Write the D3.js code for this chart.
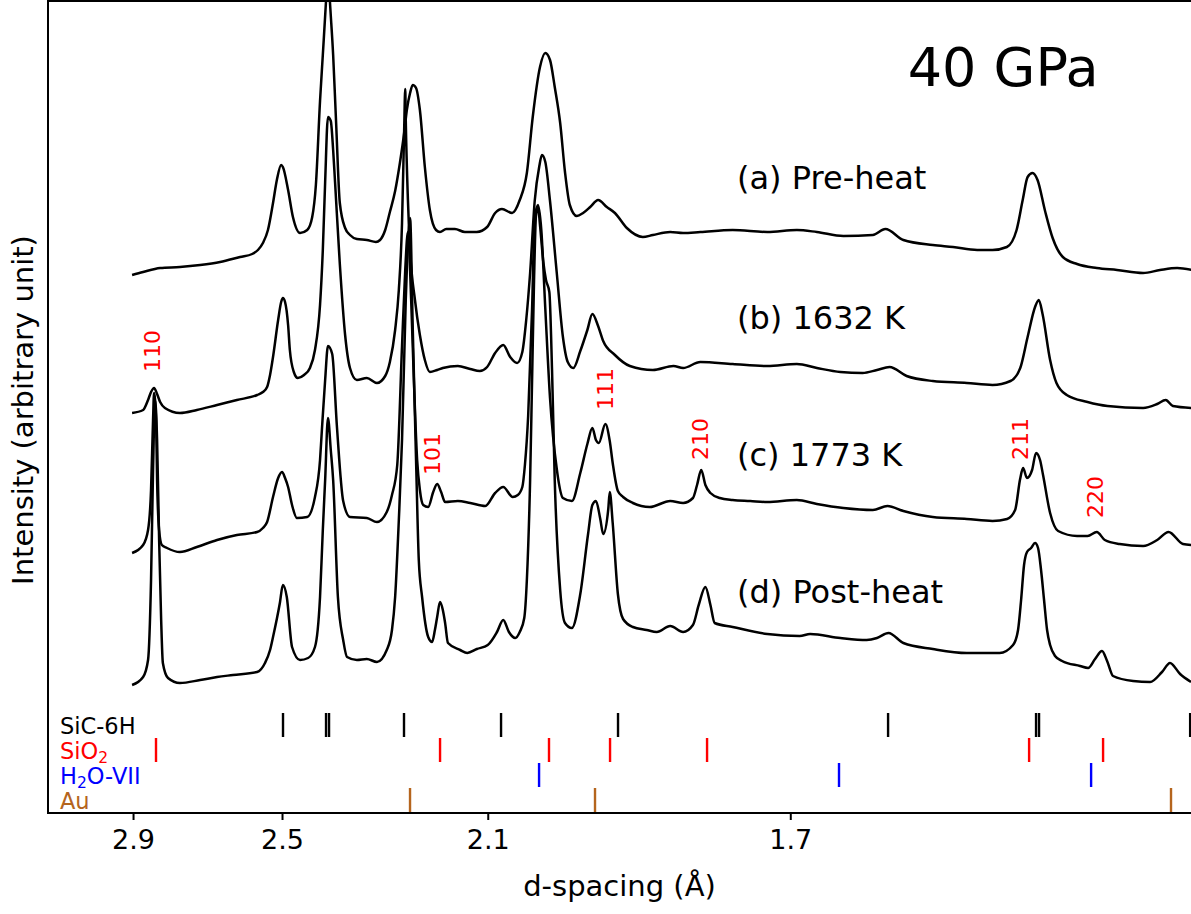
<!DOCTYPE html>
<html>
<head>
<meta charset="utf-8">
<script src="https://cdn.jsdelivr.net/npm/d3@7"></script>
<style>
  body { margin: 0; background: #fff; }
  svg { display: block; font-family: "DejaVu Sans", sans-serif; }
</style>
</head>
<body>
<div id="chart"></div>
<script>
// XRD patterns at 40 GPa: [d-spacing (Å), stacked intensity (arbitrary unit)]
const preHeat = [
  [2.903,538],[2.869,541],[2.818,545],[2.761,546],[2.705,548],[2.652,551],[2.601,556],[2.571,559],
  [2.557,563],[2.545,570],[2.533,583],[2.521,610],[2.512,633],[2.502,648],[2.498,646],[2.486,623],
  [2.475,596],[2.459,580],[2.443,583],[2.432,596],[2.424,628],[2.415,712],[2.409,758],[2.402,813],
  [2.398,848],[2.394,813],[2.387,758],[2.381,693],[2.373,610],[2.362,585],[2.352,578],[2.338,574],
  [2.318,573],[2.300,571],[2.292,573],[2.282,583],[2.273,601],[2.263,622],[2.254,650],[2.246,680],
  [2.241,703],[2.235,720],[2.230,728],[2.224,725],[2.217,703],[2.208,646],[2.199,603],[2.188,583],
  [2.181,581],[2.170,584],[2.155,584],[2.138,581],[2.118,581],[2.101,586],[2.088,600],[2.077,604],
  [2.061,600],[2.049,613],[2.038,640],[2.029,696],[2.018,746],[2.010,760],[2.003,753],[1.996,726],
  [1.988,690],[1.981,641],[1.974,608],[1.964,597],[1.955,600],[1.945,606],[1.934,613],[1.922,606],
  [1.911,600],[1.895,585],[1.874,576],[1.861,578],[1.839,581],[1.823,580],[1.802,581],[1.764,583],
  [1.725,581],[1.693,583],[1.672,581],[1.645,577],[1.616,578],[1.604,584],[1.587,573],[1.560,568],
  [1.542,566],[1.521,563],[1.508,563],[1.496,566],[1.488,583],[1.483,613],[1.479,636],[1.475,640],
  [1.471,633],[1.465,602],[1.459,575],[1.451,556],[1.440,549],[1.425,545],[1.410,543],[1.391,540],
  [1.379,543],[1.367,545],[1.357,543]
];
const heat1632 = [
  [2.903,400],[2.869,403],[2.854,413],[2.845,421],[2.836,425],[2.827,419],[2.818,411],[2.804,405],
  [2.761,400],[2.714,403],[2.660,408],[2.609,413],[2.559,418],[2.545,421],[2.535,426],[2.528,438],
  [2.521,456],[2.509,493],[2.502,511],[2.498,515],[2.493,511],[2.486,488],[2.482,463],[2.473,441],
  [2.464,435],[2.450,438],[2.437,445],[2.426,463],[2.415,508],[2.409,563],[2.404,631],[2.398,696],
  [2.392,692],[2.387,663],[2.383,631],[2.373,549],[2.362,478],[2.352,445],[2.338,433],[2.318,435],
  [2.298,430],[2.282,437],[2.273,451],[2.263,483],[2.256,523],[2.250,590],[2.246,683],[2.244,724],
  [2.243,693],[2.239,613],[2.235,563],[2.226,513],[2.217,478],[2.208,453],[2.199,441],[2.186,443],
  [2.176,445],[2.150,447],[2.129,444],[2.113,442],[2.101,446],[2.088,460],[2.075,468],[2.064,456],
  [2.053,450],[2.045,461],[2.039,493],[2.033,540],[2.026,612],[2.019,647],[2.015,658],[2.010,651],
  [2.003,612],[1.993,540],[1.984,476],[1.977,451],[1.969,445],[1.959,462],[1.949,483],[1.942,499],
  [1.934,487],[1.927,472],[1.911,458],[1.891,447],[1.861,443],[1.835,447],[1.823,445],[1.802,451],
  [1.764,449],[1.725,447],[1.693,449],[1.672,445],[1.648,441],[1.626,440],[1.612,443],[1.600,446],
  [1.584,437],[1.560,432],[1.530,430],[1.508,428],[1.493,432],[1.485,445],[1.479,476],[1.473,506],
  [1.470,513],[1.467,499],[1.461,453],[1.456,430],[1.448,418],[1.432,411],[1.417,407],[1.391,405],
  [1.381,409],[1.375,413],[1.370,407],[1.357,405]
];
const heat1773 = [
  [2.903,260],[2.869,268],[2.854,283],[2.845,323],[2.839,393],[2.836,420],[2.830,393],[2.827,333],
  [2.821,283],[2.813,268],[2.798,265],[2.761,261],[2.714,266],[2.660,273],[2.609,278],[2.559,281],
  [2.545,285],[2.535,291],[2.521,316],[2.509,335],[2.500,341],[2.493,335],[2.486,326],[2.477,308],
  [2.466,295],[2.443,296],[2.426,316],[2.415,353],[2.411,383],[2.404,433],[2.398,467],[2.389,459],
  [2.379,386],[2.366,312],[2.352,296],[2.318,295],[2.298,291],[2.279,301],[2.269,318],[2.259,348],
  [2.250,467],[2.244,543],[2.239,581],[2.233,513],[2.228,433],[2.222,353],[2.217,323],[2.211,308],
  [2.202,306],[2.193,321],[2.186,329],[2.179,321],[2.172,311],[2.150,312],[2.129,310],[2.104,307],
  [2.088,320],[2.075,326],[2.060,316],[2.052,318],[2.045,326],[2.041,348],[2.036,397],[2.030,504],
  [2.026,594],[2.021,608],[2.016,583],[2.010,504],[2.003,415],[1.993,344],[1.984,315],[1.971,312],
  [1.959,340],[1.949,369],[1.942,385],[1.937,373],[1.933,370],[1.924,389],[1.918,372],[1.914,350],
  [1.907,322],[1.900,316],[1.887,310],[1.865,306],[1.839,312],[1.823,310],[1.811,315],[1.806,328],
  [1.801,343],[1.796,328],[1.790,320],[1.779,315],[1.764,313],[1.744,312],[1.725,311],[1.693,313],
  [1.672,309],[1.645,305],[1.616,303],[1.602,307],[1.587,302],[1.560,296],[1.530,294],[1.508,292],
  [1.4958,294],[1.4892,303],[1.4851,334],[1.4827,345],[1.4795,335],[1.4754,343],[1.4722,360],[1.4690,353],
  [1.4666,338],[1.4610,300],[1.4547,282],[1.440,277],[1.432,277],[1.425,281],[1.419,273],[1.408,269],
  [1.391,267],[1.381,273],[1.373,281],[1.363,269],[1.357,268]
];
const postHeat = [
  [2.903,128],[2.869,136],[2.854,153],[2.845,233],[2.839,343],[2.833,413],[2.827,373],[2.821,273],
  [2.815,193],[2.810,150],[2.795,135],[2.761,130],[2.705,133],[2.660,136],[2.619,138],[2.559,141],
  [2.540,150],[2.528,163],[2.521,176],[2.505,210],[2.498,228],[2.489,216],[2.477,166],[2.459,153],
  [2.441,155],[2.426,166],[2.415,216],[2.409,283],[2.404,333],[2.398,395],[2.392,363],[2.387,333],
  [2.377,216],[2.366,173],[2.358,156],[2.338,153],[2.318,154],[2.298,151],[2.279,163],[2.269,183],
  [2.263,216],[2.256,293],[2.250,373],[2.243,513],[2.235,595],[2.230,483],[2.224,353],[2.219,253],
  [2.213,216],[2.202,176],[2.195,171],[2.190,183],[2.186,196],[2.181,211],[2.176,203],[2.172,190],
  [2.167,170],[2.146,163],[2.134,160],[2.118,164],[2.100,168],[2.085,181],[2.075,193],[2.066,181],
  [2.056,175],[2.049,181],[2.042,195],[2.038,233],[2.033,333],[2.030,433],[2.027,533],[2.024,598],
  [2.021,606],[2.018,588],[2.013,551],[2.009,533],[2.004,521],[2.000,443],[1.996,333],[1.988,223],
  [1.981,190],[1.971,185],[1.959,219],[1.948,279],[1.942,308],[1.937,312],[1.931,294],[1.927,279],
  [1.920,304],[1.918,321],[1.914,290],[1.907,219],[1.900,194],[1.887,186],[1.869,183],[1.856,181],
  [1.839,187],[1.823,181],[1.811,188],[1.804,208],[1.796,226],[1.790,208],[1.785,190],[1.764,186],
  [1.725,179],[1.690,177],[1.679,179],[1.648,175],[1.622,173],[1.612,175],[1.601,180],[1.587,170],
  [1.560,164],[1.530,160],[1.502,160],[1.4909,168],[1.4868,183],[1.4843,213],[1.4819,248],[1.4795,261],
  [1.4762,265],[1.4730,270],[1.4706,265],[1.4682,243],[1.4658,213],[1.4634,183],[1.4610,168],[1.4571,157],
  [1.4516,152],[1.4377,147],[1.4316,145],[1.4263,154],[1.4211,162],[1.4173,152],[1.4129,137],[1.3982,132],
  [1.3860,131],[1.3776,141],[1.3720,150],[1.3650,139],[1.3575,131]
];
const patterns = [preHeat, heat1632, heat1773, postHeat];
const patternNames = ["(a) Pre-heat", "(b) 1632 K", "(c) 1773 K", "(d) Post-heat"];
const patternLabelLevel = [624, 484, 347, 210];

// reference peak positions (d-spacing, Å)
const sic6h = [2.4977, 2.4021, 2.3957, 2.2463, 2.0785, 1.9068, 1.6014, 1.4722, 1.4698, 1.3581];
const sio2 = [2.8302, 2.1809, 2.0045, 1.9176, 1.7940, 1.4778, 1.4203];
const h2o7 = [2.0194, 1.6494, 1.4293];
const au = [2.2351, 1.9383, 1.3713];

// stishovite hkl labels
const hklNames = ["110", "101", "111", "210", "211", "220"];
const hklD = [2.842, 2.195, 1.924, 1.802, 1.485, 1.426];
const hklLevel = [441, 338, 403, 353, 353, 295];

const xTicks = [2.9, 2.5, 2.1, 1.7];

const width = 1191, height = 914;
const margin = { top: 1, right: -9, bottom: 101, left: 48 };

const svg = d3.select("#chart").append("svg")
  .attr("width", width).attr("height", height);

// axis is linear in 1/d
const x = d3.scalePow().exponent(-1)
  .domain([3.1915, 1.3514])
  .range([margin.left, width - margin.right]);
const y = d3.scaleLinear()
  .domain([0, 812])
  .range([height - margin.bottom, margin.top]);

svg.append("clipPath").attr("id", "plot-clip")
  .append("rect")
  .attr("x", margin.left).attr("y", margin.top)
  .attr("width", width - margin.right - margin.left)
  .attr("height", height - margin.bottom - margin.top);

const line = d3.line()
  .x(d => x(d[0]))
  .y(d => y(d[1]))
  .curve(d3.curveMonotoneX);

svg.append("g").attr("clip-path", "url(#plot-clip)")
  .selectAll("path")
  .data(patterns)
  .join("path")
  .attr("fill", "none")
  .attr("stroke", "#000")
  .attr("stroke-width", 2.5)
  .attr("stroke-linejoin", "round")
  .attr("d", line);

// reference tick rows
const phases = [
  { name: "SiC-6H", d: sic6h, color: "#000000", row: 3 },
  { name: "SiO2", d: sio2, color: "#ff0000", row: 2 },
  { name: "H2O-VII", d: h2o7, color: "#0000ff", row: 1 },
  { name: "Au", d: au, color: "#b5651d", row: 0 }
];
const rowH = 25;

phases.forEach(p => {
  svg.append("g").attr("clip-path", "url(#plot-clip)")
    .selectAll("line")
    .data(p.d)
    .join("line")
    .attr("x1", d => x(d)).attr("x2", d => x(d))
    .attr("y1", y(p.row * rowH + 1)).attr("y2", y((p.row + 1) * rowH))
    .attr("stroke", p.color)
    .attr("stroke-width", 2.4);
});

const labelX = x(3.147);
const phaseText = svg.append("g").attr("font-size", 22.5);
function addPhaseLabel(p, parts) {
  const t = phaseText.append("text")
    .attr("x", labelX)
    .attr("y", y(p.row * rowH + rowH / 2))
    .attr("dy", "0.36em")
    .attr("fill", p.color);
  parts.forEach(([s, sub]) => {
    const ts = t.append("tspan").text(s);
    if (sub) ts.attr("font-size", 15.5).attr("dy", 4);
    else if (t.selectAll("tspan").size() > 1) ts.attr("dy", -4);
  });
}
addPhaseLabel(phases[0], [["SiC-6H"]]);
addPhaseLabel(phases[1], [["SiO"], ["2", true]]);
addPhaseLabel(phases[2], [["H"], ["2", true], ["O-VII"]]);
addPhaseLabel(phases[3], [["Au"]]);

// hkl labels
svg.append("g").selectAll("text")
  .data(hklNames)
  .join("text")
  .attr("transform", (d, i) => `translate(${x(hklD[i])},${y(hklLevel[i])}) rotate(-90)`)
  .attr("dy", "0.36em")
  .attr("font-size", 22)
  .attr("fill", "#ff0000")
  .text(d => d);

// pattern labels
svg.append("g").selectAll("text")
  .data(patternNames)
  .join("text")
  .attr("x", x(1.759))
  .attr("y", (d, i) => y(patternLabelLevel[i]))
  .attr("font-size", 32)
  .text(d => d);

svg.append("text")
  .attr("x", x(1.583)).attr("y", y(727))
  .attr("font-size", 54)
  .text("40 GPa");

// axes frame
svg.append("path")
  .attr("d", `M${width + 10},${margin.top}H${margin.left}V${height - margin.bottom}H${width + 10}`)
  .attr("fill", "none").attr("stroke", "#000").attr("stroke-width", 2);

const xAxis = svg.append("g")
  .attr("transform", `translate(0,${height - margin.bottom})`)
  .call(d3.axisBottom(x).tickValues(xTicks).tickFormat(d3.format(".1f")).tickSize(7).tickPadding(10).tickSizeOuter(0));
xAxis.select(".domain").remove();
xAxis.selectAll(".tick line").attr("stroke-width", 2);
xAxis.selectAll("text").attr("font-size", 27).attr("font-family", "DejaVu Sans").attr("fill", "#000");

svg.append("text")
  .attr("x", (margin.left + width) / 2).attr("y", 896)
  .attr("text-anchor", "middle")
  .attr("font-size", 29)
  .text("d-spacing (Å)");

svg.append("text")
  .attr("transform", `translate(33,${(margin.top + height - margin.bottom) / 2 + 3}) rotate(-90)`)
  .attr("text-anchor", "middle")
  .attr("font-size", 29)
  .text("Intensity (arbitrary unit)");
</script>
</body>
</html>
